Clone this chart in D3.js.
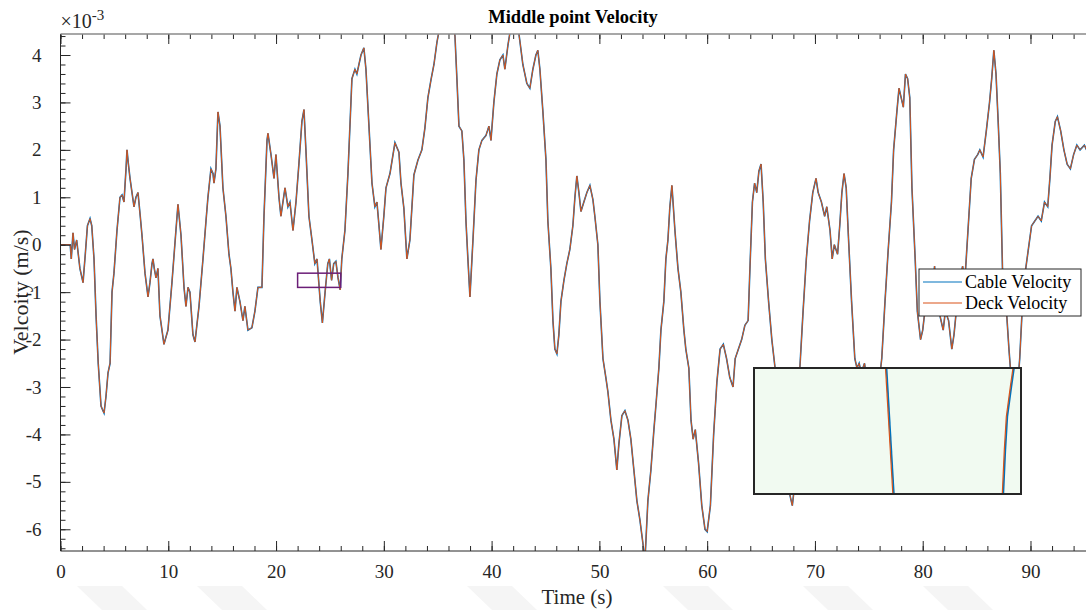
<!DOCTYPE html>
<html>
<head>
<meta charset="utf-8">
<script src="https://cdn.jsdelivr.net/npm/d3@7"></script>
<style>
  html, body { margin: 0; padding: 0; background: #fff; }
  svg { display: block; font-family: "Liberation Serif", "Times New Roman", serif; }
</style>
</head>
<body>
<div id="chart"></div>
<script>
// ------------------------------
// Data (velocity in 1e-3 m/s)
// ------------------------------
const timeS = [
  0, 0.5, 0.9, 1.0, 1.16, 1.3, 1.5, 1.8, 2.09, 2.3, 2.5, 2.74, 2.9, 3.11, 3.3, 3.5, 3.76, 3.94, 4.04, 4.22,
  4.41, 4.6, 4.78, 4.96, 5.24, 5.52, 5.71, 5.89, 6.08, 6.17, 6.3, 6.45, 6.82, 7.0, 7.19, 7.4, 7.56, 7.84, 8.12, 8.3,
  8.49, 8.58, 8.7, 8.86, 9.04, 9.23, 9.6, 9.97, 10.34, 10.71, 10.9, 11.18, 11.46, 11.64, 11.83, 12.01, 12.29, 12.48, 12.85, 13.22,
  13.5, 13.68, 13.96, 14.15, 14.24, 14.42, 14.61, 14.8, 15.07, 15.35, 15.63, 15.81, 16.0, 16.19, 16.37, 16.65, 16.93, 17.11, 17.39, 17.76,
  18.04, 18.32, 18.69, 18.88, 19.16, 19.25, 19.53, 19.81, 19.99, 20.27, 20.45, 20.83, 21.1, 21.29, 21.57, 21.85, 22.12, 22.4, 22.59, 22.77,
  23.05, 23.33, 23.6, 23.8, 24.1, 24.3, 24.55, 24.8, 24.95, 25.15, 25.35, 25.55, 25.75, 25.95, 26.1, 26.39, 26.67, 27.04, 27.32, 27.5,
  27.88, 28.15, 28.34, 28.62, 28.9, 29.17, 29.36, 29.55, 29.73, 30.0, 30.2, 30.57, 31.03, 31.4, 31.59, 31.86, 32.14, 32.42, 32.79, 33.16,
  33.53, 33.81, 34.09, 34.37, 34.65, 34.93, 35.2, 35.67, 36.32, 36.6, 36.78, 36.97, 37.24, 37.43, 37.62, 37.8, 37.99, 38.27, 38.55, 38.82,
  39.1, 39.47, 39.75, 39.94, 40.21, 40.49, 40.77, 41.05, 41.23, 41.51, 41.79, 42.16, 42.44, 42.62, 42.9, 43.27, 43.55, 43.83, 44.11, 44.29,
  44.48, 44.76, 45.04, 45.22, 45.5, 45.69, 45.87, 46.06, 46.24, 46.43, 46.71, 46.98, 47.26, 47.54, 47.73, 47.91, 48.1, 48.29, 48.56, 48.84,
  49.12, 49.4, 49.58, 49.86, 50.05, 50.33, 50.6, 50.79, 51.07, 51.35, 51.62, 51.81, 52.09, 52.37, 52.65, 52.92, 53.2, 53.48, 53.76, 54.04,
  54.22, 54.5, 54.78, 55.06, 55.24, 55.52, 55.71, 55.98, 56.17, 56.36, 56.54, 56.73, 57.01, 57.29, 57.56, 57.84, 58.02, 58.3, 58.5, 58.7,
  58.9, 59.2, 59.5, 59.8, 60.0, 60.3, 60.6, 60.9, 61.2, 61.5, 61.8, 62.1, 62.4, 62.6, 62.9, 63.2, 63.5, 63.8, 64.0, 64.2,
  64.4, 64.6, 64.8, 65.0, 65.2, 65.4, 65.7, 66.0, 66.3, 66.6, 66.9, 67.3, 67.7, 67.9, 68.1, 68.4, 68.6, 68.9, 69.2, 69.5,
  69.8, 70.1, 70.3, 70.6, 70.9, 71.1, 71.4, 71.6, 71.8, 72.1, 72.3, 72.5, 72.7, 72.9, 73.1, 73.4, 73.7, 73.9, 74.1, 74.3,
  74.6, 74.9, 75.2, 75.5, 75.8, 76.0, 76.2, 76.5, 76.8, 77.1, 77.3, 77.6, 77.8, 78.0, 78.2, 78.4, 78.6, 78.8, 79.0, 79.3,
  79.5, 79.8, 80.0, 80.3, 80.6, 80.9, 81.1, 81.3, 81.6, 81.9, 82.1, 82.4, 82.7, 82.9, 83.2, 83.5, 83.7, 83.9, 84.2, 84.5,
  84.8, 85.1, 85.3, 85.6, 85.9, 86.2, 86.4, 86.6, 86.8, 87.0, 87.2, 87.4, 87.6, 87.8, 88.0, 88.2, 88.5, 88.8, 89.0, 89.2,
  89.5, 89.8, 90.1, 90.4, 90.7, 91.0, 91.3, 91.6, 91.8, 92.0, 92.3, 92.5, 92.8, 93.1, 93.4, 93.7, 94.0, 94.3, 94.6, 95.0,
  95.2
];

const cableVel = [
  0, 0, 0, -0.3, 0.25, -0.1, 0.1, -0.5, -0.8, -0.2, 0.4, 0.55, 0.4, -0.3, -1.5, -2.5, -3.4, -3.5, -3.55, -3.2,
  -2.7, -2.5, -1.0, -0.6, 0.3, 1.0, 1.05, 0.9, 1.6, 2.0, 1.7, 1.4, 0.8, 1.0, 1.1, 0.6, 0.2, -0.6, -1.1, -0.8,
  -0.4, -0.3, -0.5, -0.7, -0.5, -1.5, -2.1, -1.8, -0.8, 0.3, 0.85, 0.2, -0.9, -1.3, -0.9, -1.0, -1.9, -2.05, -1.3, -0.3,
  0.5, 1.0, 1.6, 1.5, 1.3, 1.6, 2.8, 2.5, 1.2, 0.6, -0.2, -0.5, -1.0, -1.4, -0.9, -1.2, -1.6, -1.3, -1.8, -1.75,
  -1.4, -0.9, -0.9, 0.6, 2.2, 2.35, 1.9, 1.4, 1.9, 1.0, 0.6, 1.2, 0.8, 0.9, 0.3, 0.9, 1.7, 2.6, 2.85, 2.0,
  0.6, 0.1, -0.4, -0.3, -1.2, -1.65, -1.0, -0.4, -0.3, -0.75, -0.4, -0.35, -0.7, -0.95, -0.3, 0.3, 1.5, 3.5, 3.7, 3.6,
  4.0, 4.15, 3.7, 2.5, 1.3, 0.8, 0.9, 0.4, -0.1, 0.6, 1.2, 1.5, 2.15, 1.95, 1.3, 0.77, -0.3, 0.1, 1.47, 1.78,
  2.0, 2.46, 3.1, 3.47, 3.8, 4.27, 4.6, 5.0, 4.9, 4.4, 3.5, 2.5, 2.4, 1.78, 0.5, -0.3, -1.1, 0.1, 1.36, 2.0,
  2.2, 2.3, 2.5, 2.2, 3.0, 3.6, 3.9, 4.0, 3.7, 4.2, 4.6, 4.8, 4.6, 4.3, 3.8, 3.4, 3.3, 3.7, 4.0, 4.1,
  3.7, 2.8, 1.8, 0.5, -0.5, -1.6, -2.2, -2.3, -1.9, -1.2, -0.75, -0.4, -0.1, 0.4, 1.0, 1.45, 1.1, 0.7, 0.9, 1.1,
  1.25, 0.95, 0.6, 0, -1.2, -2.4, -2.8, -3.1, -3.7, -4.1, -4.75, -4.2, -3.6, -3.5, -3.7, -4.1, -4.75, -5.4, -5.8, -6.3,
  -6.7, -5.4, -4.75, -3.9, -3.4, -2.6, -1.8, -1.2, -0.3, 0.1, 0.8, 1.25, 0.3, -0.5, -1.0, -1.8, -2.2, -2.6, -3.7, -4.1,
  -3.9, -4.6, -5.5, -6.0, -6.05, -5.5, -4.0, -2.9, -2.2, -2.1, -2.4, -2.8, -3.0, -2.4, -2.2, -2.0, -1.7, -1.6, -0.3, 0.9,
  1.3, 1.1, 1.55, 1.7, 0.9, -0.3, -1.2, -2.0, -2.6, -3.4, -4.1, -4.8, -5.3, -5.5, -5.1, -3.8, -2.6, -1.4, -0.3, 0.5,
  1.1, 1.4, 1.1, 0.9, 0.6, 0.8, 0.3, -0.3, 0.0, -0.2, 0.4, 1.1, 1.5, 1.2, 0.2, -1.2, -2.4, -2.6, -2.5, -2.7,
  -2.5, -3.0, -3.4, -3.2, -3.0, -2.8, -2.4, -1.2, -0.1, 0.9, 2.0, 2.8, 3.3, 3.1, 2.9, 3.6, 3.5, 3.1, 1.2, -0.3,
  -1.4, -2.0, -1.8, -1.2, -0.8, -1.0, -0.45, -1.4, -1.5, -1.8, -1.4, -1.6, -2.2, -1.9, -1.2, -0.7, -0.45, -0.8, 0.3, 1.4,
  1.8, 1.9, 2.0, 1.85, 2.4, 3.0, 3.5, 4.1, 3.6, 2.6, 1.5, -0.5, -1.0, -1.5, -2.2, -2.8, -3.0, -3.0, -2.4, -1.5,
  -0.6, -0.1, 0.4, 0.5, 0.6, 0.5, 0.9, 0.8, 1.4, 2.1, 2.6, 2.7, 2.4, 2.0, 1.7, 1.6, 1.9, 2.1, 2.0, 2.1,
  2.0
];
// deck trace sits on top of the cable trace at this resolution
const deckVel = cableVel;

// magnified window (purple box) and the two trace pieces seen inside the inset
const zoomT = [22, 26];
const zoomV = [-0.9, -0.6];
const insetA = [[23.97, -0.6], [24.08, -0.9]];
const insetB = [[25.88, -0.6], [25.84, -0.645], [25.78, -0.716], [25.75, -0.795], [25.72, -0.9]];

const seriesNames = ["Cable Velocity", "Deck Velocity"];
const seriesColors = ["#0072BD", "#D95319"];

const xMajor = d3.range(0, 91, 10);
const xMinor = d3.range(0, 95.1, 2);
const yMajor = d3.range(-6, 4.1, 1);
const yMinor = d3.range(-6.4, 4.45, 0.2).map(v => +v.toFixed(1));

// ------------------------------
// Layout
// ------------------------------
const W = 1086, H = 610;
const plot = { left: 60.5, right: 1086, top: 34, bottom: 551 };

const svg = d3.select("#chart").append("svg")
  .attr("width", W)
  .attr("height", H);

svg.append("rect").attr("width", W).attr("height", H).attr("fill", "#fff");

// faint watermark shapes along the bottom edge
const marks = [77, 197, 467, 663, 803, 923];
svg.append("g").selectAll("path")
  .data(marks)
  .enter()
  .append("path")
  .attr("d", d => `M${d},586 L${d + 45},586 L${d + 70},610 L${d + 25},610 Z`)
  .attr("fill", "#f5f5f5");

const x = d3.scaleLinear().domain([0, 95.15]).range([plot.left, plot.right]);
const y = d3.scaleLinear().domain([-6.458, 4.443]).range([plot.bottom, plot.top]);

const defs = svg.append("defs");
defs.append("clipPath").attr("id", "plot-clip")
  .append("rect")
  .attr("x", plot.left).attr("y", plot.top)
  .attr("width", plot.right - plot.left).attr("height", plot.bottom - plot.top);

// ------------------------------
// Traces
// ------------------------------
const pts = timeS.map((t, i) => [t, cableVel[i], deckVel[i]]);

const lineCable = d3.line().x(d => x(d[0])).y(d => y(d[1]));
const lineDeck = d3.line().x(d => x(d[0])).y(d => y(d[2]));

const traces = svg.append("g").attr("clip-path", "url(#plot-clip)");
traces.append("path")
  .datum(pts)
  .attr("d", lineCable)
  .attr("fill", "none")
  .attr("stroke", seriesColors[0])
  .attr("stroke-width", 1.6);
traces.append("path")
  .datum(pts)
  .attr("d", lineDeck)
  .attr("fill", "none")
  .attr("stroke", seriesColors[1])
  .attr("stroke-width", 1);

// ------------------------------
// Axes (MATLAB style, ticks inside)
// ------------------------------
const axisColor = "#262626";
const tickFmt = d => String(d); // plain hyphen minus like the original

function styleAxis(g) {
  g.select(".domain").remove();
  g.selectAll("line").attr("stroke", axisColor);
  g.selectAll("text")
    .attr("fill", axisColor)
    .attr("font-size", 19)
    .attr("font-family", "Liberation Serif, Times New Roman, serif");
}

svg.append("g")
  .attr("transform", `translate(0,${plot.bottom})`)
  .call(d3.axisBottom(x).tickValues(xMinor).tickSize(-5).tickFormat(""))
  .call(styleAxis);
svg.append("g")
  .attr("transform", `translate(0,${plot.bottom})`)
  .call(d3.axisBottom(x).tickValues(xMajor).tickSize(-10).tickPadding(14).tickFormat(tickFmt))
  .call(styleAxis);

svg.append("g")
  .attr("transform", `translate(0,${plot.top})`)
  .call(d3.axisTop(x).tickValues(xMinor).tickSize(-5).tickFormat(""))
  .call(styleAxis);
svg.append("g")
  .attr("transform", `translate(0,${plot.top})`)
  .call(d3.axisTop(x).tickValues(xMajor).tickSize(-10).tickFormat(""))
  .call(styleAxis);

svg.append("g")
  .attr("transform", `translate(${plot.left},0)`)
  .call(d3.axisLeft(y).tickValues(yMinor).tickSize(-5).tickFormat(""))
  .call(styleAxis);
svg.append("g")
  .attr("transform", `translate(${plot.left},0)`)
  .call(d3.axisLeft(y).tickValues(yMajor).tickSize(-10).tickPadding(19).tickFormat(tickFmt))
  .call(styleAxis);

// box lines
svg.append("line")
  .attr("x1", plot.left).attr("x2", plot.right)
  .attr("y1", plot.bottom).attr("y2", plot.bottom)
  .attr("stroke", axisColor).attr("stroke-width", 1);
svg.append("line")
  .attr("x1", plot.left).attr("x2", plot.left)
  .attr("y1", plot.top).attr("y2", plot.bottom)
  .attr("stroke", axisColor).attr("stroke-width", 1);
svg.append("line")
  .attr("x1", plot.left).attr("x2", plot.right)
  .attr("y1", plot.top).attr("y2", plot.top)
  .attr("stroke", "#8a8a8a").attr("stroke-width", 1.5);

// exponent
const expo = svg.append("text")
  .attr("x", plot.left)
  .attr("y", 28)
  .attr("font-size", 20)
  .attr("fill", axisColor);
expo.append("tspan").text("\u00d710");
expo.append("tspan").attr("dy", -8).attr("font-size", 15).text("-3");

// titles
svg.append("text")
  .attr("x", 573)
  .attr("y", 23)
  .attr("text-anchor", "middle")
  .attr("font-size", 18.5)
  .attr("font-weight", 700)
  .attr("fill", "#000")
  .text("Middle point Velocity");

svg.append("text")
  .attr("x", 577)
  .attr("y", 604)
  .attr("text-anchor", "middle")
  .attr("font-size", 21)
  .attr("fill", axisColor)
  .text("Time (s)");

svg.append("text")
  .attr("transform", "rotate(-90)")
  .attr("x", -292)
  .attr("y", 28)
  .attr("text-anchor", "middle")
  .attr("font-size", 22)
  .attr("fill", axisColor)
  .text("Velcoity (m/s)");

// ------------------------------
// Magnifier: source box + inset
// ------------------------------
svg.append("rect")
  .attr("x", x(zoomT[0])).attr("y", y(zoomV[1]))
  .attr("width", x(zoomT[1]) - x(zoomT[0]))
  .attr("height", y(zoomV[0]) - y(zoomV[1]))
  .attr("fill", "none")
  .attr("stroke", "#6B1E77")
  .attr("stroke-width", 1.5);

const inset = { left: 754, right: 1021, top: 368, bottom: 494 };
const xi = d3.scaleLinear().domain(zoomT).range([inset.left, inset.right]);
const yi = d3.scaleLinear().domain(zoomV).range([inset.bottom, inset.top]);

svg.append("rect")
  .attr("x", inset.left).attr("y", inset.top)
  .attr("width", inset.right - inset.left).attr("height", inset.bottom - inset.top)
  .attr("fill", "#f1faf1");

defs.append("clipPath").attr("id", "inset-clip")
  .append("rect")
  .attr("x", inset.left).attr("y", inset.top)
  .attr("width", inset.right - inset.left).attr("height", inset.bottom - inset.top);

const insetLine = d3.line().x(d => xi(d[0])).y(d => yi(d[1]));
const ig = svg.append("g").attr("clip-path", "url(#inset-clip)");
[insetA, insetB].forEach(seg => {
  ig.append("path").datum(seg).attr("d", insetLine)
    .attr("fill", "none").attr("stroke", seriesColors[0]).attr("stroke-width", 1.8)
    .attr("transform", "translate(1,0)");
  ig.append("path").datum(seg).attr("d", insetLine)
    .attr("fill", "none").attr("stroke", seriesColors[1]).attr("stroke-width", 1.2);
});

svg.append("rect")
  .attr("x", inset.left).attr("y", inset.top)
  .attr("width", inset.right - inset.left).attr("height", inset.bottom - inset.top)
  .attr("fill", "none")
  .attr("stroke", axisColor)
  .attr("stroke-width", 2);

// ------------------------------
// Legend
// ------------------------------
const legend = svg.append("g").attr("transform", "translate(919,269)");
legend.append("rect")
  .attr("width", 162).attr("height", 47)
  .attr("fill", "#fff")
  .attr("stroke", axisColor)
  .attr("stroke-width", 1);

seriesNames.forEach((name, i) => {
  const ly = 13 + i * 21;
  legend.append("line")
    .attr("x1", 4).attr("x2", 43)
    .attr("y1", ly).attr("y2", ly)
    .attr("stroke", seriesColors[i])
    .attr("stroke-width", 1.2);
  legend.append("text")
    .attr("x", 46)
    .attr("y", ly + 6)
    .attr("font-size", 18)
    .attr("fill", "#000")
    .text(name);
});
</script>
</body>
</html>
